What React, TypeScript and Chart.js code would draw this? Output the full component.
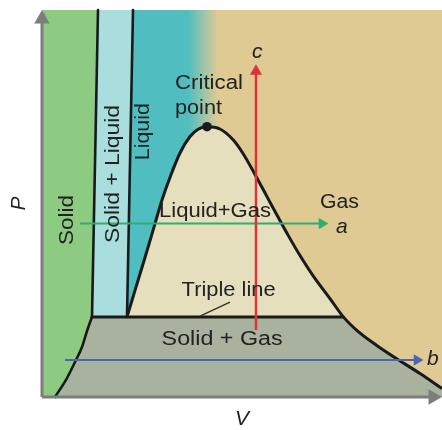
import React, { useEffect, useRef } from 'react';
import { Chart, registerables } from 'chart.js';

Chart.register(...registerables);

// ---------- data (V = volume, P = pressure, arbitrary units 0..100) ----------
const V_RANGE = [0, 100];
const P_RANGE = [0, 100];
const TRIPLE_P = 20.7;

// solid | solid+liquid boundary (straight part above the triple line)
const MELT_SOLID_EDGE: [number, number][] = [[14, 100], [12.5, TRIPLE_P]];
// solid | solid+gas boundary (below the triple line), ascending V
const SUBLIMATION_EDGE: [number, number][] = [
  [3.25, 0], [6.25, 4.9], [8.25, 9.04], [10, 12.9], [11.25, 17.05], [12.5, TRIPLE_P],
];
// solid+liquid | liquid boundary
const MELT_LIQUID_EDGE: [number, number][] = [[22.75, 100], [21.25, TRIPLE_P]];
// liquid+gas dome
const DOME_LEFT: [number, number][] = [
  [21.25, TRIPLE_P], [23.5, 28.4], [25.75, 36.05], [28, 43.9], [30, 50.9],
  [32.13, 57.1], [34.5, 63.05], [37, 67.3], [39.13, 69.25],
];
const CRITICAL_POINT: [number, number] = [41.25, 69.84];
const DOME_RIGHT: [number, number][] = [
  [44.5, 69.25], [47.83, 66.4], [50.33, 62.8], [53.25, 57.5], [56.18, 51.9],
  [59.08, 46.36], [61.58, 41.7], [64.5, 36.56], [67.83, 31.24], [72, 25.43],
  [75.33, TRIPLE_P], [79.08, 16.87], [83.68, 13.31], [89.08, 9.61], [94.5, 6.07], [100, 2.2],
];
const TRIPLE_LINE: [number, number][] = [[12.5, TRIPLE_P], [75.33, TRIPLE_P]];
const TRIPLE_LEADER: [number, number][] = [[39.5, 20.9], [47, 24.5]];
const LIQUID_FADE_V = [36.5, 44];

// process paths
const PATH_A: [number, number][] = [[9.5, 44.8], [70, 44.8]];
const PATH_B: [number, number][] = [[5.75, 9.56], [93.75, 9.56]];
const PATH_C: [number, number][] = [[53.5, 17.3], [53.5, 84.2]];
// axes
const AXIS_P: [number, number][] = [[0, 0], [0, 97.7]];
const AXIS_V: [number, number][] = [[0, 0], [97.75, 0]];

// labels
type Label = { text: string; v: number; p: number; w?: number; rot?: number; italic?: boolean; size: number };
const LABELS: Label[] = [
  { text: 'Critical', v: 33.25, p: 79.6, w: 68, size: 20 },
  { text: 'point', v: 33.25, p: 73.1, w: 47, size: 20 },
  { text: 'Liquid+Gas', v: 29.25, p: 46.6, w: 112, size: 20 },
  { text: 'Gas', v: 69.5, p: 48.8, w: 39, size: 20 },
  { text: 'Triple line', v: 34.9, p: 26.2, w: 94, size: 20 },
  { text: 'Solid + Gas', v: 29.9, p: 13.4, w: 121, size: 20 },
  { text: 'Solid', v: 7.75, p: 39.3, w: 50, rot: -90, size: 20 },
  { text: 'Solid + Liquid', v: 19.3, p: 39.8, w: 138, rot: -90, size: 20 },
  { text: 'Liquid', v: 26.75, p: 61.2, w: 57, rot: -90, size: 20 },
  { text: 'a', v: 73.5, p: 42.4, italic: true, size: 21 },
  { text: 'c', v: 52.5, p: 87.6, italic: true, size: 21 },
  { text: 'b', v: 96.25, p: 8.27, italic: true, size: 21 },
];

// ---------- styles ----------
const FONT = '"Liberation Sans", Arial, Helvetica, sans-serif';
const TAN = '#E0CA94';
const TEAL = '#50BEC0';
const LIGHT_CYAN = '#AADEDE';
const GREEN = '#8ECB82';
const BEIGE = '#E5DFBD';
const GRAY_GREEN = '#A8B29F';
const LINE = '#1a1a1a';
const AXIS = '#7D7D7D';
const TEXT = '#222222';

const pts = (a: [number, number][]) => a.map(([x, y]) => ({ x, y }));

const labelPlugin = {
  id: 'phaseLabels',
  afterDatasetsDraw(chart: any) {
    const { ctx, scales } = chart;
    for (const l of LABELS) {
      ctx.save();
      ctx.translate(scales.x.getPixelForValue(l.v), scales.y.getPixelForValue(l.p));
      if (l.rot) ctx.rotate((l.rot * Math.PI) / 180);
      ctx.font = `${l.italic ? 'italic ' : ''}${l.size}px ${FONT}`;
      ctx.fillStyle = TEXT;
      ctx.textAlign = 'left';
      ctx.textBaseline = 'alphabetic';
      if (l.w) {
        const m = ctx.measureText(l.text).width;
        ctx.scale(l.w / m, 1);
      }
      ctx.fillText(l.text, 0, 0);
      ctx.restore();
    }
  },
};

export default function App() {
  const ref = useRef<HTMLCanvasElement | null>(null);

  useEffect(() => {
    if (!ref.current) return;

    const liquidFill = (c: any) => {
      const chart = c.chart;
      if (!chart.chartArea || !chart.scales || !chart.scales.x) return TEAL;
      const xs = chart.scales.x;
      const g = chart.ctx.createLinearGradient(
        xs.getPixelForValue(LIQUID_FADE_V[0]), 0,
        xs.getPixelForValue(LIQUID_FADE_V[1]), 0,
      );
      g.addColorStop(0, TEAL);
      g.addColorStop(1, TAN);
      return g;
    };

    const base = { pointRadius: 0, borderWidth: 0, tension: 0, clip: false as any };
    const smooth = { cubicInterpolationMode: 'monotone' };
    const layers: any[] = [
      // regions (bottom to top)
      { ...base, data: pts([[V_RANGE[0], P_RANGE[1]], [V_RANGE[1], P_RANGE[1]]]), fill: 'start', backgroundColor: TAN },
      { ...base, data: pts([[20, P_RANGE[1]], [50, P_RANGE[1]]]), fill: { value: TRIPLE_P }, backgroundColor: liquidFill },
      { ...base, data: pts([[V_RANGE[0], P_RANGE[1]], MELT_SOLID_EDGE[0]]), fill: 'start', backgroundColor: GREEN },
      {
        ...base,
        data: pts([MELT_SOLID_EDGE[0], MELT_LIQUID_EDGE[0], MELT_LIQUID_EDGE[1], MELT_SOLID_EDGE[1], MELT_SOLID_EDGE[0]]),
        fill: 'shape', backgroundColor: LIGHT_CYAN,
      },
      { ...base, data: pts([[V_RANGE[0], TRIPLE_P], [V_RANGE[1], TRIPLE_P]]), fill: 'start', backgroundColor: GRAY_GREEN },
      {
        ...base, ...smooth,
        data: pts([[V_RANGE[0], 0], ...SUBLIMATION_EDGE]),
        fill: { value: TRIPLE_P }, backgroundColor: GREEN,
      },
      {
        ...base, ...smooth, borderWidth: 3, borderColor: LINE,
        data: pts([...DOME_LEFT, CRITICAL_POINT, ...DOME_RIGHT]),
        fill: { value: TRIPLE_P, above: BEIGE, below: TAN }, backgroundColor: BEIGE,
      },
      // boundary lines
      { ...base, borderWidth: 2.6, borderColor: LINE, data: pts(MELT_SOLID_EDGE), fill: false, borderCapStyle: 'round' },
      { ...base, ...smooth, borderWidth: 2.6, borderColor: LINE, data: pts(SUBLIMATION_EDGE), fill: false, borderCapStyle: 'round' },
      { ...base, borderWidth: 2.6, borderColor: LINE, data: pts(MELT_LIQUID_EDGE), fill: false, borderCapStyle: 'round' },
      { ...base, borderWidth: 3, borderColor: LINE, data: pts(TRIPLE_LINE), fill: false, borderCapStyle: 'round' },
      { ...base, borderWidth: 1.5, borderColor: '#333', data: pts(TRIPLE_LEADER), fill: false },
      {
        ...base, data: pts([CRITICAL_POINT]), showLine: false, fill: false,
        pointRadius: 4.8, pointBackgroundColor: LINE, pointBorderWidth: 0,
      },
      // process arrows
      {
        ...base, data: pts(PATH_B), borderWidth: 2, borderColor: '#4A66B0', fill: false,
        pointStyle: 'triangle', pointRadius: [0, 6.5], pointRotation: [0, 90],
        pointBackgroundColor: '#4A66B0', pointBorderWidth: 0,
      },
      {
        ...base, data: pts(PATH_A), borderWidth: 2, borderColor: '#2FAE6E', fill: false,
        pointStyle: 'triangle', pointRadius: [0, 6.5], pointRotation: [0, 90],
        pointBackgroundColor: '#2FAE6E', pointBorderWidth: 0,
      },
      {
        ...base, data: pts(PATH_C), borderWidth: 2.5, borderColor: '#E0303A', fill: false,
        pointStyle: 'triangle', pointRadius: [0, 7], pointRotation: [0, 0],
        pointBackgroundColor: '#E0303A', pointBorderWidth: 0,
      },
      // axes
      {
        ...base, data: pts(AXIS_P), borderWidth: 3, borderColor: AXIS, fill: false,
        pointStyle: 'triangle', pointRadius: [0, 9], pointRotation: [0, 0],
        pointBackgroundColor: AXIS, pointBorderWidth: 0,
      },
      {
        ...base, data: pts(AXIS_V), borderWidth: 3, borderColor: AXIS, fill: false,
        pointStyle: 'triangle', pointRadius: [0, 9], pointRotation: [0, 90],
        pointBackgroundColor: AXIS, pointBorderWidth: 0,
      },
    ];
    const datasets = layers.map((d, i) => ({ ...d, order: layers.length - i }));

    const chart = new Chart(ref.current, {
      type: 'line',
      data: { datasets },
      options: {
        responsive: false,
        devicePixelRatio: 1,
        animation: false,
        events: [],
        layout: { autoPadding: false, padding: { left: 3, right: 0, top: 10, bottom: 0 } },
        plugins: { legend: { display: false }, tooltip: { enabled: false } },
        scales: {
          x: {
            type: 'linear', min: V_RANGE[0], max: V_RANGE[1],
            grid: { display: false, drawTicks: false, tickLength: 0 },
            border: { display: false },
            ticks: { display: false },
            title: {
              display: true, text: 'V', color: TEXT,
              font: { family: FONT, size: 21, style: 'italic', lineHeight: 1 },
              padding: { top: 12, bottom: 0 },
            },
          },
          y: {
            type: 'linear', min: P_RANGE[0], max: P_RANGE[1],
            grid: { display: false, drawTicks: false, tickLength: 0 },
            border: { display: false },
            ticks: { display: false },
            title: {
              display: true, text: 'P', color: TEXT,
              font: { family: FONT, size: 21, style: 'italic', lineHeight: 1 },
              padding: { top: 6, bottom: 12 },
            },
          },
        },
      },
      plugins: [labelPlugin],
    });
    return () => chart.destroy();
  }, []);

  return (
    <div style={{ position: 'fixed', left: 0, top: 0, width: 442, height: 430, background: '#fff' }}>
      <canvas ref={ref} width={442} height={430} style={{ display: 'block' }} />
    </div>
  );
}
